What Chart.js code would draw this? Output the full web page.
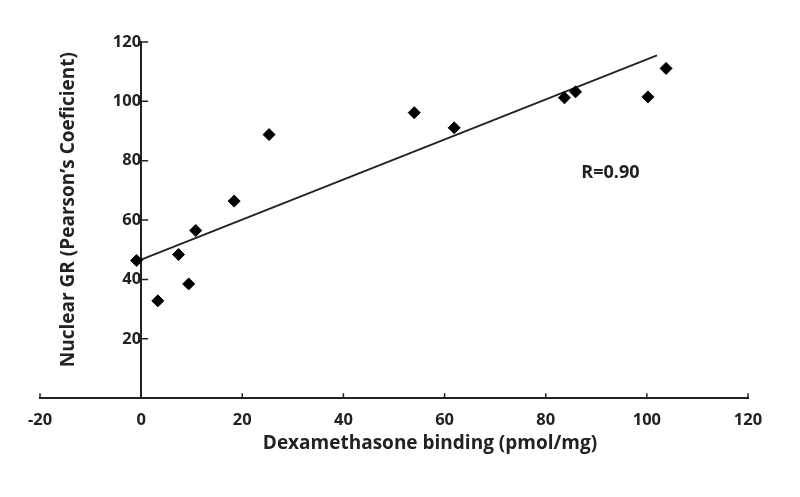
<!DOCTYPE html>
<html>
<head>
<meta charset="utf-8">
<script src="https://cdn.jsdelivr.net/npm/chart.js@4.4.0/dist/chart.umd.min.js"></script>
<style>
	html, body { margin: 0; padding: 0; background: #fff; }
	#caixaGrafico { width: 800px; height: 497px; }
</style>
</head>
<body>
<div id="caixaGrafico"><canvas id="graficoGR"></canvas></div>
<script>
// pontos
var dexaBinding = [-0.9, 3.3, 7.4, 9.4, 10.8, 18.4, 25.3, 54.0, 61.9, 83.7, 85.9, 100.2, 103.8];
var nuclearGR = [46.4, 32.8, 48.4, 38.5, 56.5, 66.4, 88.8, 96.2, 91.1, 101.2, 103.2, 101.5, 111.1];

// reta de regressao (extremos)
var retaX = [0, 102];
var retaY = [46.7, 115.5];

var ticksX = [-20, 0, 20, 40, 60, 80, 100, 120];
var ticksY = [20, 40, 60, 80, 100, 120];

var tituloX = 'Dexamethasone binding (pmol/mg)';
var tituloY = 'Nuclear GR (Pearson\u2019s Coeficient)';
var rotuloR = 'R=0.90';
var rotuloRx = 92.8;
var rotuloRy = 76;

var corEixo = '#222';
var corTexto = '#222';
var fonte = 'Open Sans';

function juntarPontos(xs, ys) {
	var pontos = [];
	xs.forEach(function(x, i) {
		pontos.push({ x: x, y: ys[i] });
	});
	return pontos;
}

// marcas para dentro, titulos dos eixos e o R
var extras = {
	id: 'extras',
	afterDraw: function(chart) {
		var ctx = chart.ctx;
		var sx = chart.scales.x;
		var sy = chart.scales.y;
		var x0 = sx.getPixelForValue(0);
		var y0 = sy.getPixelForValue(0);
		var area = chart.chartArea;

		ctx.save();
		ctx.strokeStyle = corEixo;
		ctx.lineWidth = 1.5;
		ctx.beginPath();
		ticksX.forEach(function(v) {
			var px = sx.getPixelForValue(v);
			ctx.moveTo(px, y0);
			ctx.lineTo(px, y0 - 5);
		});
		ticksY.forEach(function(v) {
			var py = sy.getPixelForValue(v);
			ctx.moveTo(x0, py);
			ctx.lineTo(x0 + 7, py);
		});
		ctx.stroke();

		ctx.fillStyle = corTexto;
		ctx.textAlign = 'center';
		ctx.textBaseline = 'middle';
		ctx.font = 'bold 18px "' + fonte + '"';
		ctx.fillText(rotuloR, sx.getPixelForValue(rotuloRx), sy.getPixelForValue(rotuloRy));

		ctx.font = 'bold 19px "' + fonte + '"';
		ctx.fillText(tituloX, area.left + 390, area.bottom + 45);

		ctx.translate(area.left + 28.5, (area.top + area.bottom) / 2 - 10.5);
		ctx.rotate(-Math.PI / 2);
		ctx.fillText(tituloY, 0, 0);
		ctx.restore();
	}
};

var grafico = new Chart(document.getElementById('graficoGR').getContext('2d'), {
	type: 'scatter',
	data: {
		datasets: [{
			label: 'Nuclear GR',
			data: juntarPontos(dexaBinding, nuclearGR),
			pointStyle: 'rectRot',
			pointRadius: 6,
			pointBackgroundColor: '#000',
			pointBorderColor: '#000',
			pointBorderWidth: 1
		},
		{
			label: 'Regressao',
			type: 'line',
			data: juntarPontos(retaX, retaY),
			borderColor: corEixo,
			borderWidth: 1.8,
			pointRadius: 0,
			fill: false
		}]
	},
	options: {
		responsive: true,
		maintainAspectRatio: false,
		animation: false,
		layout: { padding: { left: 40, right: 52, top: 42, bottom: 55 } },
		plugins: {
			legend: { display: false },
			tooltip: { enabled: false }
		},
		scales: {
			x: {
				type: 'linear',
				position: 'bottom',
				min: -20,
				max: 120,
				afterBuildTicks: function(scale) {
					scale.ticks = ticksX.map(function(v) { return { value: v }; });
				},
				grid: { display: true, drawOnChartArea: false, drawTicks: false },
				border: { display: true, color: corEixo, width: 2 },
				ticks: {
					padding: 12,
					color: corTexto,
					font: { family: fonte, weight: 'bold', size: 16.5 }
				}
			},
			y: {
				type: 'linear',
				position: { x: 0 },
				min: 0,
				max: 120,
				afterBuildTicks: function(scale) {
					scale.ticks = ticksY.map(function(v) { return { value: v }; });
				},
				grid: { display: true, drawOnChartArea: false, drawTicks: false },
				border: { display: true, color: corEixo, width: 2 },
				ticks: {
					padding: 15,
					color: corTexto,
					font: { family: fonte, weight: 'bold', size: 16.5 }
				}
			}
		}
	},
	plugins: [extras]
});
</script>
</body>
</html>
